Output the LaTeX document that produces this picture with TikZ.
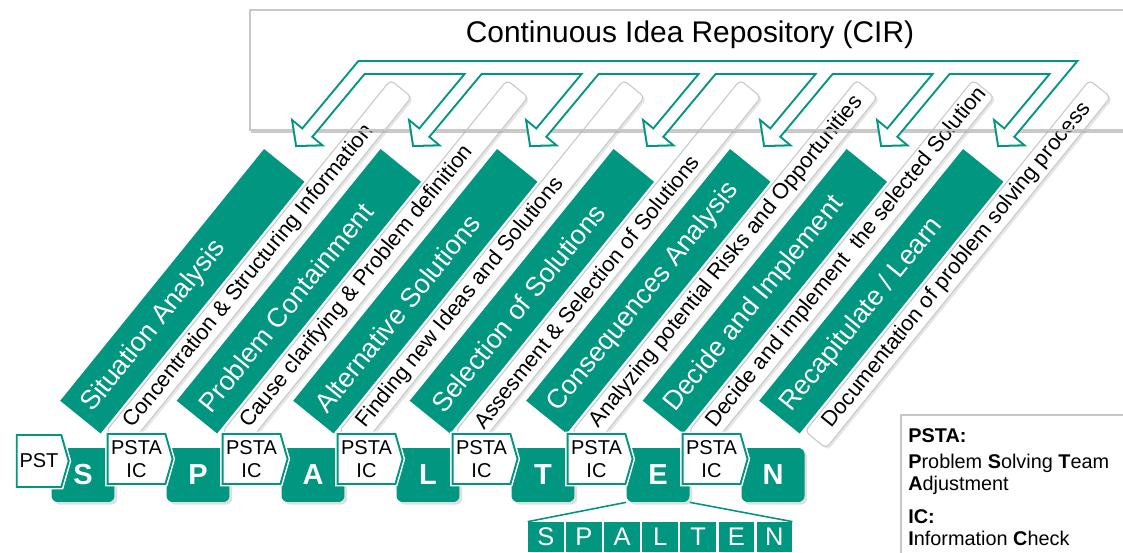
\documentclass[tikz,border=0pt]{standalone}
\usepackage{fontspec}
\setmainfont{Liberation Sans}
\usetikzlibrary{shapes.symbols,shadows}

\definecolor{spteal}{RGB}{0,150,128}
\definecolor{spgray}{RGB}{200,200,200}

\begin{document}
\begin{tikzpicture}[x=0.02cm, y=-0.02cm,
    phase/.style={fill=spteal, minimum width=6.48cm, minimum height=1.04cm, inner sep=0pt, rotate=51},
    phasetext/.style={text=white, inner sep=0pt, rotate=51, font=\fontsize{15.3}{17}\selectfont},
    task/.style={fill=white, draw=spgray, line width=0.6pt, rounded corners=2.5pt, minimum width=9.04cm,
                 minimum height=0.54cm, inner sep=0pt, rotate=51,
                 drop shadow={shadow xshift=1.2pt, shadow yshift=-1.2pt, opacity=0.2}},
    tasktext/.style={inner sep=0pt, rotate=51, font=\fontsize{12.4}{14}\selectfont},
    letter/.style={fill=spteal, rounded corners=3.5pt, minimum width=1.26cm, minimum height=1.08cm,
                   text=white, font=\fontsize{16.5}{18}\selectfont\bfseries,
                   drop shadow={shadow xshift=1.5pt, shadow yshift=-1.5pt, opacity=0.25}},
    check/.style={signal, signal to=east, signal pointer angle=148, draw=spteal, line width=1.1pt,
                  fill=white, minimum width=1.3cm, minimum height=1cm, inner sep=0pt, align=center,
                  font=\fontsize{11.4}{13}\selectfont, preaction={draw=white, line width=2.8pt}},
    mini/.style={fill=spteal, minimum width=0.71cm, minimum height=0.6cm, inner sep=0pt,
                 text=white, font=\fontsize{14.5}{16}\selectfont}]
    \useasboundingbox (0,0) rectangle (1123,553);

    % idea repository
    \fill[white] (250,10) rectangle (1140,130);
    \node[font=\fontsize{17}{19}\selectfont] (cir) at (690,35) {Continuous Idea Repository (CIR)};

    % phases and tasks
    \foreach \phase/\job [count=\i from 0] in {
        Situation Analysis/Concentration \& Structuring Information,
        Problem Containment/Cause clarifying \& Problem definition,
        Alternative Solutions/Finding new Ideas and Solutions,
        Selection of Solutions/Assesment \& Selection of Solutions,
        Consequences Analysis/Analyzing potential Risks and Opportunities,
        Decide and Implement/Decide and implement\ \ the selected Solution,
        {Recapitulate / Learn}/Documentation of problem solving process} {
        \node[phase, anchor=west] (ph\i) at (80.2+116.5*\i, 417.4) {};
        \node[phasetext, anchor=west] (pt\i) at (87.1+116.5*\i, 408.9) {\phase};
        \node[task, anchor=west] (tk\i) at (116.3+116.5*\i, 440.2) {};
        \node[tasktext, anchor=west] (tt\i) at (128.3+116.5*\i, 425.4) {\job};
    }

    \draw[spgray, line width=0.6pt] (1140,130) -- (250,130) -- (250,10) -- (1140,10);
    \draw[black!35, line width=1.4pt, opacity=0.6] (251,131.8) -- (1140,131.8);

    % feedback arrows
    \foreach \k in {0,...,6} {
        \coordinate (c\k) at (361.5+117*\k, 67.5);
        \coordinate (t\k) at (297+117*\k, 145);
        \coordinate (b\k) at (306.6+117*\k, 133.5);
        \coordinate (wa\k) at (319.7+117*\k, 144.4);
        \coordinate (wb\k) at (293.5+117*\k, 122.6);
    }
    \draw[spteal, line width=8.5pt] (b0) -- (c0) -- (c6) -- (b6);
    \foreach \k in {1,...,5}
        \draw[spteal, line width=8.5pt] (c\k) -- (b\k);
    \foreach \k in {0,...,6}
        \filldraw[spteal, line width=2.3pt] (t\k) -- (wa\k) -- (wb\k) -- cycle;
    \draw[white, line width=6.2pt] (b0) -- (c0) -- (c6) -- (b6);
    \foreach \k in {1,...,5}
        \draw[white, line width=6.2pt] (c\k) -- (b\k);
    \foreach \k in {0,...,6}
        \fill[white] (t\k) -- (wa\k) -- (wb\k) -- cycle;

    % steps
    \foreach \l [count=\i from 0] in {S,P,A,L,T,E,N}
        \node[letter] (l\l) at (83+115*\i, 475) {\l};
    \foreach \i in {0,...,5}
        \node[check] (ic\i) at (136.5+115*\i, 459) {PSTA\\IC};
    \node[check, minimum width=1.04cm, minimum height=1.04cm] (pst) at (39,461) {PST};

    % spalten row
    \foreach \l [count=\i from 0] in {S,P,A,L,T,E,N}
        \node[mini] (m\i) at (545.8+38.1*\i, 537) {\l};
    \draw[spteal, line width=0.9pt] (lE.south west) -- (m0.north west)
                                    (lE.south east) -- (m6.north east);

    % legend
    \draw[spgray, line width=0.6pt, fill=white] (1140,415) -- (901,415) -- (901,560);
    \node[anchor=north west, inner sep=0pt, align=left, font=\fontsize{11.3}{12.5}\selectfont] (legend) at (908,428)
        {\textbf{PSTA:}\\[2.3pt]\textbf{P}roblem \textbf{S}olving \textbf{T}eam\\\textbf{A}djustment\\[6.5pt]
         \textbf{IC:}\\\textbf{I}nformation \textbf{C}heck};
\end{tikzpicture}
\end{document}
